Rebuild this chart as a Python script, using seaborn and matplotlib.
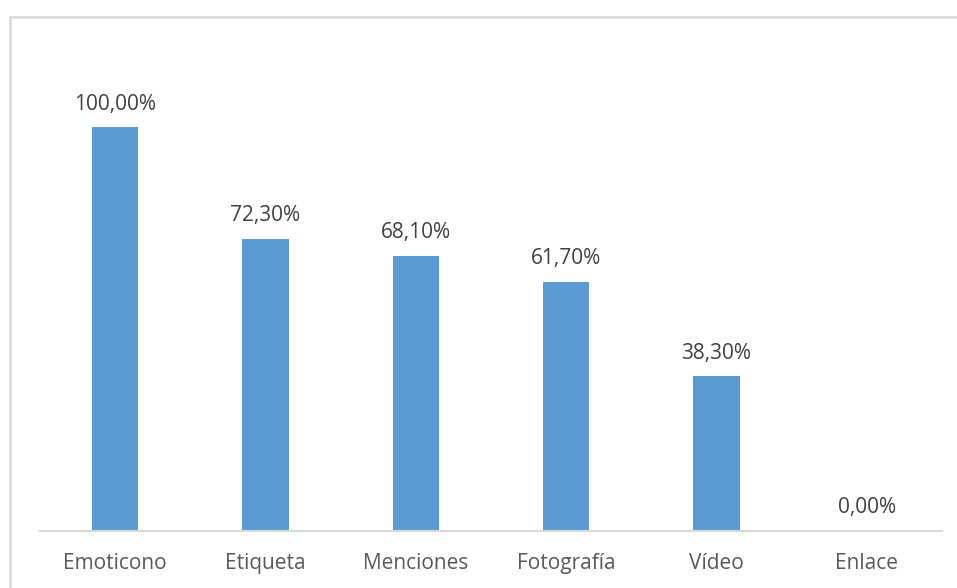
import matplotlib
matplotlib.use("Agg")
import matplotlib.pyplot as plt
from matplotlib.lines import Line2D
import seaborn as sns
import pandas as pd

categories = ["Emoticono", "Etiqueta", "Menciones", "Fotografía", "Vídeo", "Enlace"]
values = [100.0, 72.3, 68.1, 61.7, 38.3, 0.0]
value_labels = ["100,00%", "72,30%", "68,10%", "61,70%", "38,30%", "0,00%"]

sns.set_theme(style="white")
plt.rcParams["font.family"] = ["Open Sans", "DejaVu Sans"]

df = pd.DataFrame({"categoria": categories, "valor": values})

fig = plt.figure(figsize=(9.57, 5.88), dpi=100)
ax = fig.add_axes([40 / 957, 1 - 531 / 588, 902 / 957, 514 / 588])

sns.barplot(data=df, x="categoria", y="valor", color="#5b9bd5", width=0.31,
            saturation=1, linewidth=0, ax=ax)

ax.set_ylim(0, 514 / 404 * 100)
ax.set_xlim(-0.5, len(categories) - 0.5)
ax.set_yticks([])
ax.set_xlabel("")
ax.set_ylabel("")
for side in ["top", "right", "left"]:
    ax.spines[side].set_visible(False)
ax.spines["bottom"].set_color("#d9d9d9")
ax.spines["bottom"].set_linewidth(1.5)
ax.tick_params(axis="x", length=0, pad=16, labelsize=15, labelcolor="#595959")

for i, (v, lab) in enumerate(zip(values, value_labels)):
    ax.annotate(lab, (i, v), xytext=(0, 9), textcoords="offset points",
                ha="center", va="bottom", fontsize=15, color="#404040")

# chart-area frame (top and left edges)
frame_kw = dict(transform=fig.transFigure, color="#d9d9d9", linewidth=1.8)
fig.lines.append(Line2D([10 / 957, 1.0], [1 - 17 / 588] * 2, **frame_kw))
fig.lines.append(Line2D([10 / 957] * 2, [0.0, 1 - 17 / 588], **frame_kw))

fig.savefig("out.png", dpi=100, facecolor="white")
